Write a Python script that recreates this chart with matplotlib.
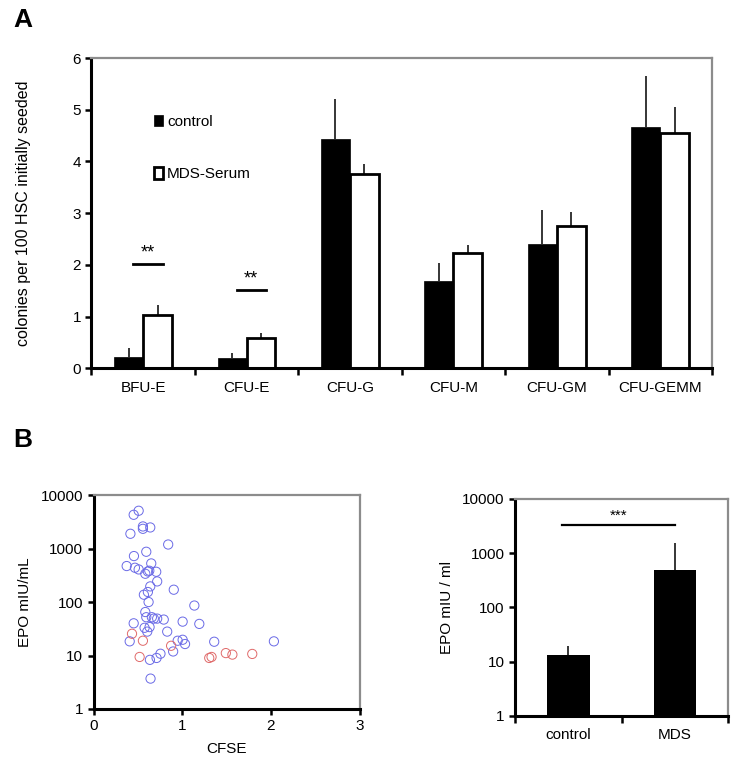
import numpy as np
import matplotlib
matplotlib.use("Agg")
import matplotlib.pyplot as plt
from matplotlib.patches import Patch

plt.rcParams['font.family'] = ['Liberation Sans', 'DejaVu Sans']
plt.rcParams['font.size'] = 11

# ---- panel A data ----
colony_types = ["BFU-E", "CFU-E", "CFU-G", "CFU-M", "CFU-GM", "CFU-GEMM"]
control_mean = [0.22, 0.19, 4.43, 1.69, 2.40, 4.66]
control_err = [0.17, 0.11, 0.78, 0.35, 0.67, 0.99]
mds_mean = [1.03, 0.58, 3.76, 2.22, 2.75, 4.56]
mds_err = [0.19, 0.10, 0.20, 0.16, 0.28, 0.49]
sig_groups = [0, 1]          # categories with "**"
sig_heights = [2.02, 1.52]

# ---- panel B scatter data (CFSE vs EPO) ----
blue_cfse = [0.508, 0.452, 0.556, 0.556, 0.639, 0.415, 0.841, 0.594, 0.455, 0.373,
             0.466, 0.508, 0.650, 0.612, 0.583, 0.628, 0.706, 0.717, 0.639, 0.904,
             0.612, 0.567, 0.620, 1.136, 0.583, 0.594, 0.657, 0.679, 0.717, 0.791,
             0.452, 1.004, 1.192, 0.631, 0.575, 0.605, 0.830, 0.407, 0.948, 1.004,
             1.031, 0.897, 0.754, 0.710, 0.635, 0.642, 1.360, 2.033]
blue_epo = [5090, 4280, 2590, 2340, 2480, 1890, 1190, 871, 724, 471,
            438, 407, 527, 373, 338, 385, 368, 243, 196, 170,
            154, 137, 100, 86, 65, 52, 52, 49, 49, 47,
            40, 43, 39, 34, 33, 28, 28, 18.4, 18.9, 19.7,
            16.4, 11.9, 10.8, 9.0, 8.3, 3.7, 18.1, 18.4]
red_cfse = [0.433, 0.556, 0.874, 0.519, 1.304, 1.330, 1.491, 1.565, 1.789]
red_epo = [25.5, 18.9, 15.2, 9.4, 9.0, 9.4, 11.1, 10.4, 10.7]

# ---- panel B bars ----
epo_groups = ["control", "MDS"]
epo_mean = [13.3, 480]
epo_upper = [19.8, 1535]
epo_sig = 3300


def style_axes(ax):
    for s in ["left", "bottom"]:
        ax.spines[s].set_color("black")
        ax.spines[s].set_linewidth(2.2)
    for s in ["top", "right"]:
        ax.spines[s].set_color("#8c8c8c")
        ax.spines[s].set_linewidth(1.6)
    ax.tick_params(direction="out", length=4, width=1.8, color="black", labelsize=11)


fig = plt.figure(figsize=(7.37, 7.64), dpi=100)

# ================= A =================
axA = fig.add_axes([0.124, 0.518, 0.842, 0.406])
x = np.arange(len(colony_types))
w = 0.28
axA.bar(x - w / 2, control_mean, w, color="black", edgecolor="black", linewidth=0.5)
axA.bar(x + w / 2, mds_mean, w, color="white", edgecolor="black", linewidth=2)
axA.errorbar(x - w / 2, control_mean, yerr=[np.zeros(len(x)), control_err],
             fmt="none", ecolor="black", elinewidth=1.1, capsize=0)
axA.errorbar(x + w / 2, mds_mean, yerr=[np.zeros(len(x)), mds_err],
             fmt="none", ecolor="black", elinewidth=1.1, capsize=0)
for g, h in zip(sig_groups, sig_heights):
    axA.plot([g - 0.095, g + 0.19], [h, h], color="black", lw=2)
    axA.text(g + 0.045, h + 0.04, "**", ha="center", va="bottom", fontsize=13)

axA.set_xlim(-0.5, len(colony_types) - 0.5)
axA.set_ylim(0, 6)
axA.set_yticks(range(7))
axA.set_xticks(x)
axA.set_xticklabels(colony_types)
axA.set_xticks(np.arange(-0.5, len(colony_types)), minor=True)
style_axes(axA)
axA.tick_params(axis="x", which="major", length=0, pad=9)
axA.tick_params(axis="x", which="minor", direction="out", length=5, width=1.8)
axA.set_ylabel("colonies per 100 HSC initially seeded", fontsize=11.5, labelpad=30)

handles = [Patch(facecolor="black", edgecolor="black", linewidth=0.5),
           Patch(facecolor="white", edgecolor="black", linewidth=2)]
axA.legend(handles, ["control", "MDS-Serum"], loc="upper left",
           bbox_to_anchor=(0.079, 0.862), frameon=False, handlelength=0.6,
           handleheight=0.8, handletextpad=0.25, labelspacing=2.5, fontsize=11)

fig.text(0.018, 0.974, "A", fontsize=19, fontweight="bold", va="center")
fig.text(0.018, 0.424, "B", fontsize=19, fontweight="bold", va="center")

# ================= B left: scatter =================
axS = fig.add_axes([0.127, 0.072, 0.361, 0.280])
axS.scatter(blue_cfse, blue_epo, s=44, facecolors="none", edgecolors="#6a6ae6", linewidths=0.7)
axS.scatter(red_cfse, red_epo, s=44, facecolors="none", edgecolors="#e06a6a", linewidths=0.7)
axS.set_yscale("log")
axS.set_xlim(0, 3)
axS.set_ylim(1, 10000)
axS.set_xticks([0, 1, 2, 3])
axS.set_yticks([1, 10, 100, 1000, 10000])
axS.set_yticklabels(["1", "10", "100", "1000", "10000"])
axS.minorticks_off()
style_axes(axS)
axS.set_xlabel("CFSE", fontsize=11, labelpad=6)
axS.set_ylabel("EPO mIU/mL", fontsize=11, labelpad=6)

# ================= B right: EPO bars =================
axE = fig.add_axes([0.699, 0.063, 0.289, 0.284])
xe = np.arange(len(epo_groups))
axE.bar(xe, np.array(epo_mean) - 1, 0.4, bottom=1, color="black")
axE.vlines(xe, epo_mean, epo_upper, color="black", lw=1.1)
axE.plot([-0.06, 1.0], [epo_sig, epo_sig], color="black", lw=1.6)
axE.text(0.47, epo_sig * 1.12, "***", ha="center", va="bottom", fontsize=11)
axE.set_yscale("log")
axE.set_ylim(1, 10000)
axE.set_xlim(-0.5, 1.5)
axE.set_yticks([1, 10, 100, 1000, 10000])
axE.set_yticklabels(["1", "10", "100", "1000", "10000"])
axE.minorticks_off()
axE.set_xticks(xe)
axE.set_xticklabels(epo_groups)
style_axes(axE)
axE.set_xticks([-0.5, 0.5, 1.5], minor=True)
axE.tick_params(axis="x", which="major", length=0, pad=9)
axE.tick_params(axis="x", which="minor", direction="out", length=5, width=1.8)
axE.set_ylabel("EPO mIU / ml", fontsize=11, labelpad=6)

fig.savefig("out.png", dpi=100)
